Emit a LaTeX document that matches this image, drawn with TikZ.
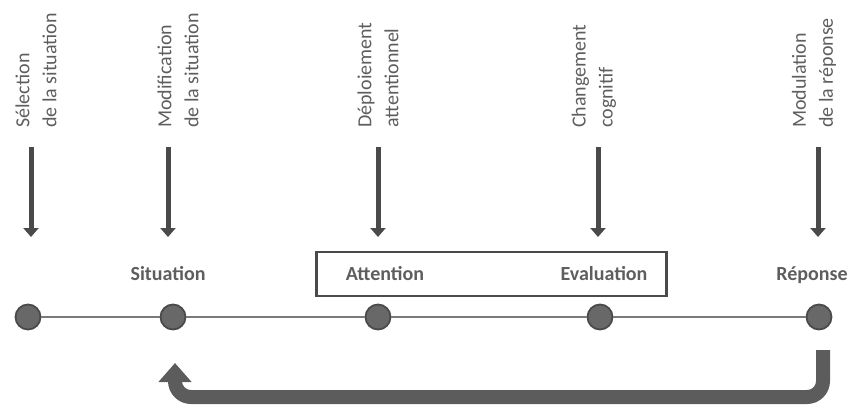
\documentclass[tikz,border=0pt]{standalone}
\usepackage{fontspec}
\setmainfont{Carlito}
\usetikzlibrary{arrows.meta}
\definecolor{txt}{HTML}{5E5E5E}
\definecolor{dk}{HTML}{4A4A4A}
\definecolor{dotfill}{HTML}{686868}
\definecolor{lin}{HTML}{7A7A7A}
\definecolor{band}{HTML}{5C5C5C}
\begin{document}
\begin{tikzpicture}[x=1pt,y=1pt,
  vlabel/.style={rotate=90,anchor=west,align=left,font=\fontsize{20}{27}\selectfont,text=txt,inner sep=0pt},
  blabel/.style={anchor=base,font=\fontsize{20}{24}\selectfont\bfseries,text=txt,inner sep=0pt},
  dot/.style={circle,draw=dk,line width=1.8pt,fill=dotfill,minimum size=25pt,inner sep=0pt},
  downarrow/.style={draw=dk,line width=5pt,-{Triangle[width=15pt,length=9pt]}},
  timeline/.style={draw=lin,line width=2pt},
  framebox/.style={draw=dk,line width=2.5pt,minimum width=350pt,minimum height=44pt,inner sep=0pt},
  retarrow/.style={draw=band,line width=14pt,rounded corners=16pt,-{Triangle[width=32pt,length=19pt]}}
]
\useasboundingbox (0,0) rectangle (848,-407);

% rotated labels
\node[vlabel] (l1) at (36,-128) {Sélection\\de la situation};
\node[vlabel] (l2) at (178,-128) {Modification\\de la situation};
\node[vlabel] (l3) at (378,-128) {Déploiement\\attentionnel};
\node[vlabel] (l4) at (594,-128) {Changement\\cognitif};
\node[vlabel] (l5) at (814,-128) {Modulation\\de la réponse};

% down arrows
\foreach \i/\x in {1/31,2/168,3/378,4/598,5/818}{
  \coordinate (t\i) at (\x,-147);
  \coordinate (b\i) at (\x,-237);
  \draw[downarrow] (t\i) -- (b\i);
}

% box
\node[framebox] (box) at (491.5,-274) {};

% bold labels
\node[blabel] (s) at (168,-280) {Situation};
\node[blabel] (att) at (385,-280) {Attention};
\node[blabel] (ev) at (604,-280) {Evaluation};
\node[blabel] (rep) at (812,-280) {Réponse};

% dots
\node[dot] (d1) at (28,-317) {};
\node[dot] (d2) at (173,-317) {};
\node[dot] (d3) at (378,-317) {};
\node[dot] (d4) at (600,-317) {};
\node[dot] (d5) at (819,-317) {};
\draw[timeline] (d1) -- (d2);
\draw[timeline] (d2) -- (d3);
\draw[timeline] (d3) -- (d4);
\draw[timeline] (d4) -- (d5);

% return arrow
\coordinate (r1) at (823,-350);
\coordinate (c1) at (823,-397);
\coordinate (c2) at (175,-397);
\coordinate (r2) at (175,-363);
\draw[retarrow] (r1) -- (c1) -- (c2) -- (r2);
\end{tikzpicture}
\end{document}
